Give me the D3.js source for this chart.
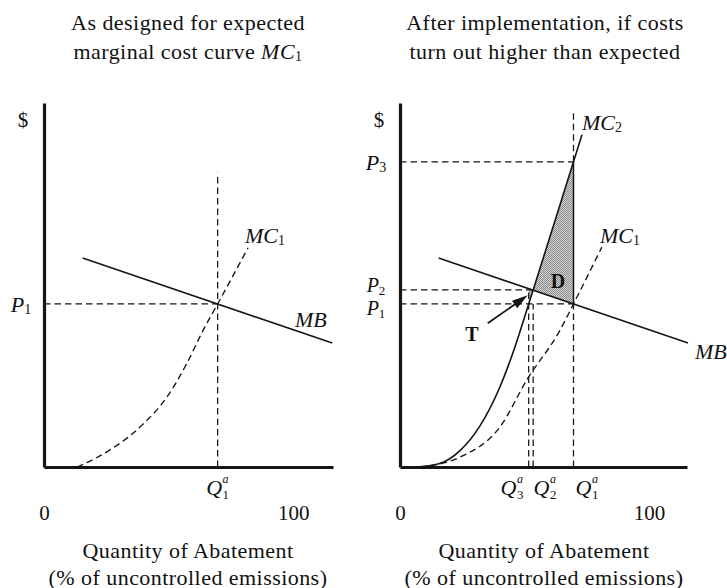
<!DOCTYPE html>
<html><head><meta charset="utf-8">
<script src="https://cdn.jsdelivr.net/npm/d3@7"></script>
<style>
body{margin:0;background:#fff}
text{font-family:"Liberation Serif","DejaVu Serif",serif;fill:#111}
</style>
</head><body>
<svg id="c" width="727" height="588"></svg>
<script>
// ---------- data ----------
const leftTitle = ["As designed for expected", "marginal cost curve "];
const rightTitle = ["After implementation, if costs", "turn out higher than expected"];
const xTickValues = [0, 100];
const xAxisTitle = ["Quantity of Abatement", "(% of uncontrolled emissions)"];
const mbCurve = [[15.5, 55.1], [115.7, 32.7]];
const mc1Left = [[13.3, 0], [26.5, 4.5], [38.6, 10.6], [49.4, 18.5], [57.4, 27.4], [63.9, 36.1], [69.7, 43], [81.9, 57.8]];
const mc1Right = [[8, 0], [24.1, 2.6], [40.2, 10.6], [51, 23], [64.3, 36.1], [69.7, 43], [81.1, 58]];
const mc2Right = [[7.2, 0], [16, 0.9], [24.1, 4.3], [32, 10.7], [40, 20.9], [44, 27.6], [48, 35.3], [51.7, 43], [53.5, 46.7], [69.7, 80.5], [73.1, 87.6]];
const priceNames = ["1", "2", "3"];
const priceValues = [43, 46.7, 80.5];       // P1, P2, P3
const quantityNames = ["1", "2", "3"];
const quantityValues = [69.7, 53.5, 51.7];  // Q1, Q2, Q3
const leftQ1Top = 77.6, rightQ1Top = 93.4, yAxisTop = 96;

// ---------- helpers ----------
const svg = d3.select("#c");
const [P1, P2, P3] = priceValues;
const [Q1, Q2, Q3] = quantityValues;
const mbAt = v => {
  const [[x0, y0], [x1, y1]] = mbCurve;
  return y0 + (v - x0) * (y1 - y0) / (x1 - x0);
};
const DASH = "6.5,4";
const INK = "#151515";

// stipple pattern for shaded areas
const pat = svg.append("defs").append("pattern").attr("id", "stip")
  .attr("width", 2).attr("height", 2).attr("patternUnits", "userSpaceOnUse");
pat.append("rect").attr("width", 2).attr("height", 2).attr("fill", "#d2d2d2");
pat.append("rect").attr("x", 0).attr("y", 0).attr("width", 1).attr("height", 1).attr("fill", "#8c8c8c");
pat.append("rect").attr("x", 1).attr("y", 1).attr("width", 1).attr("height", 1).attr("fill", "#8c8c8c");

function seg(g, x, y, a, b, dashed, w) {
  g.append("line")
    .attr("x1", x(a[0])).attr("y1", y(a[1]))
    .attr("x2", x(b[0])).attr("y2", y(b[1]))
    .attr("stroke", INK).attr("stroke-width", w || 1.25)
    .attr("stroke-dasharray", dashed ? DASH : null);
}

function subLabel(g, cx, cy, main, sub, anchor, size) {
  const fs = size || 22;
  const t = g.append("text").attr("y", cy).attr("dominant-baseline", "central")
    .style("font-size", fs + "px");
  t.append("tspan").style("font-style", "italic").text(main);
  t.append("tspan").style("font-size", Math.round(fs * 0.64) + "px").attr("dy", 5).text(sub);
  const w = t.node().getComputedTextLength();
  let x0 = cx;
  if (anchor === "middle") x0 = cx - w / 2;
  if (anchor === "end") x0 = cx - w;
  t.attr("x", x0);
  return t;
}

function qLabel(g, cx, cy, sub) {
  const t = g.append("text").attr("y", cy).attr("dominant-baseline", "central")
    .style("font-size", "22px");
  t.append("tspan").style("font-style", "italic").text("Q");
  const wq = t.node().getComputedTextLength();
  const x0 = cx - (wq + 7) / 2;
  t.attr("x", x0);
  t.append("tspan").attr("x", x0 + wq + 0.5).attr("dy", -8.5)
    .style("font-size", "12px").style("font-style", "italic").text("a");
  t.append("tspan").attr("x", x0 + wq + 0.5).attr("dy", 15)
    .style("font-size", "13px").text(sub);
}

function panel(xRange, xDomain, cx) {
  const x = d3.scaleLinear().domain(xDomain).range(xRange);
  const y = d3.scaleLinear().domain([0, yAxisTop]).range([467, 103]);
  const g = svg.append("g");
  const xa = g.append("g").attr("transform", `translate(0,${y(0)})`)
    .call(d3.axisBottom(x).tickValues(xTickValues).tickSize(0).tickPadding(38).tickFormat(d3.format("d")));
  xa.select(".domain").attr("stroke", INK).attr("stroke-width", 3.2);
  xa.selectAll("text").style("font-family", '"Liberation Serif",serif').style("font-size", "21px").attr("fill", INK);
  const ya = g.append("g").attr("transform", `translate(${x(0)},0)`)
    .call(d3.axisLeft(y).tickValues([]).tickSizeOuter(0));
  ya.select(".domain").attr("stroke", INK).attr("stroke-width", 3.2);
  g.append("text").attr("x", x(0) - 21).attr("y", 120).attr("text-anchor", "middle")
    .attr("dominant-baseline", "central").style("font-size", "21px").text("$");
  xAxisTitle.forEach((s, i) => g.append("text").attr("x", cx).attr("y", 550 + i * 27)
    .attr("text-anchor", "middle").attr("dominant-baseline", "central")
    .style("font-size", "22px").style("letter-spacing", "0.45px").text(s));
  return {g, x, y};
}

const curve = (x, y) => d3.line().x(d => x(d[0])).y(d => y(d[1])).curve(d3.curveMonotoneX);
const straight = (x, y) => d3.line().x(d => x(d[0])).y(d => y(d[1]));

// ---------- titles ----------
[[leftTitle, 188], [rightTitle, 545]].forEach(([lines, cx], k) => {
  lines.forEach((s, i) => {
    const t = svg.append("text").attr("x", cx).attr("y", 22 + i * 29).attr("text-anchor", "middle")
      .attr("dominant-baseline", "central").style("font-size", "22px").style("letter-spacing", "0.45px");
    t.append("tspan").text(s);
    if (k === 0 && i === 1) {
      t.append("tspan").style("font-style", "italic").text("MC");
      t.append("tspan").style("font-size", "14px").attr("dy", 5).text("1");
    }
  });
});

// ---------- left panel ----------
{
  const {g, x, y} = panel([44, 333], [0, 116], 188);
  seg(g, x, y, [0, P1], [Q1, P1], true);
  seg(g, x, y, [Q1, 0], [Q1, leftQ1Top], true);
  g.append("path").datum(mc1Left).attr("d", curve(x, y)).attr("fill", "none")
    .attr("stroke", INK).attr("stroke-width", 1.35).attr("stroke-dasharray", DASH);
  g.append("path").datum(mbCurve).attr("d", straight(x, y))
    .attr("fill", "none").attr("stroke", INK).attr("stroke-width", 1.6);
  subLabel(g, 21, y(P1), "P", priceNames[0], "middle");
  subLabel(g, 245, 235, "MC", "1", "start");
  g.append("text").attr("x", 295).attr("y", 319).attr("dominant-baseline", "central")
    .style("font-size", "22px").style("font-style", "italic").text("MB");
  qLabel(g, x(Q1), 487, quantityNames[0]);
}

// ---------- right panel ----------
{
  const {g, x, y} = panel([400, 687], [0, 115.3], 544);
  const line = straight(x, y);
  const dPoly = [[Q2, P2], ...mc2Right.filter(d => d[0] > Q2 && d[0] <= Q1), [Q1, mbAt(Q1)]];
  g.append("path").datum(dPoly).attr("d", d => line(d) + "Z").attr("fill", "url(#stip)").attr("stroke", "none");
  const tPoly = [[Q3, mbAt(Q3)], [Q2, P2], [Q3, P1]];
  g.append("path").datum(tPoly).attr("d", d => line(d) + "Z").attr("fill", "url(#stip)").attr("stroke", "none");
  // dashed guides
  seg(g, x, y, [0, P3], [Q1, P3], true);
  seg(g, x, y, [0, P2], [Q2, P2], true);
  seg(g, x, y, [0, P1], [Q1, P1], true);
  seg(g, x, y, [Q1, P3], [Q1, rightQ1Top], true);
  seg(g, x, y, [Q1, 0], [Q1, mbAt(Q1)], true);
  seg(g, x, y, [Q1, mbAt(Q1)], [Q1, P3], false, 1.5);
  seg(g, x, y, [Q3, 0], [Q3, mbAt(Q3)], true);
  seg(g, x, y, [Q2, 0], [Q2, P1], true);
  // curves
  g.append("path").datum(mc1Right).attr("d", curve(x, y)).attr("fill", "none")
    .attr("stroke", INK).attr("stroke-width", 1.35).attr("stroke-dasharray", DASH);
  g.append("path").datum(mc2Right).attr("d", curve(x, y)).attr("fill", "none")
    .attr("stroke", INK).attr("stroke-width", 1.6);
  g.append("path").datum(mbCurve).attr("d", line)
    .attr("fill", "none").attr("stroke", INK).attr("stroke-width", 1.6);
  // labels
  subLabel(g, 376, y(P3), "P", priceNames[2], "middle");
  subLabel(g, 376, y(P2) - 5, "P", priceNames[1], "middle", 20);
  subLabel(g, 376, y(P1) + 4, "P", priceNames[0], "middle", 20);
  subLabel(g, 582, 122, "MC", "2", "start");
  subLabel(g, 600, 235, "MC", "1", "start");
  g.append("text").attr("x", 695).attr("y", 351).attr("dominant-baseline", "central")
    .style("font-size", "22px").style("font-style", "italic").text("MB");
  g.append("text").attr("x", 558).attr("y", 281).attr("text-anchor", "middle").attr("dominant-baseline", "central")
    .style("font-size", "20px").style("font-weight", "bold").text("D");
  g.append("text").attr("x", 472).attr("y", 334).attr("text-anchor", "middle").attr("dominant-baseline", "central")
    .style("font-size", "20px").style("font-weight", "bold").text("T");
  // arrow to T
  const tipX = x(Q3) - 1, tipY = y((P1 + mbAt(Q3)) / 2) - 1;
  const tailX = tipX - 40, tailY = tipY + 28;
  const ang = Math.atan2(tipY - tailY, tipX - tailX);
  g.append("line").attr("x1", tailX).attr("y1", tailY)
    .attr("x2", tipX - 10 * Math.cos(ang)).attr("y2", tipY - 10 * Math.sin(ang))
    .attr("stroke", INK).attr("stroke-width", 1.8);
  const L = 16, W = 4.5;
  const bx = tipX - L * Math.cos(ang), by = tipY - L * Math.sin(ang);
  g.append("path").attr("d", `M${tipX},${tipY}L${bx - W * Math.sin(ang)},${by + W * Math.cos(ang)}L${bx + W * Math.sin(ang)},${by - W * Math.cos(ang)}Z`)
    .attr("fill", INK);
  qLabel(g, 512, 487, quantityNames[2]);
  qLabel(g, 545, 487, quantityNames[1]);
  qLabel(g, 587, 487, quantityNames[0]);
}
</script>
</body></html>
